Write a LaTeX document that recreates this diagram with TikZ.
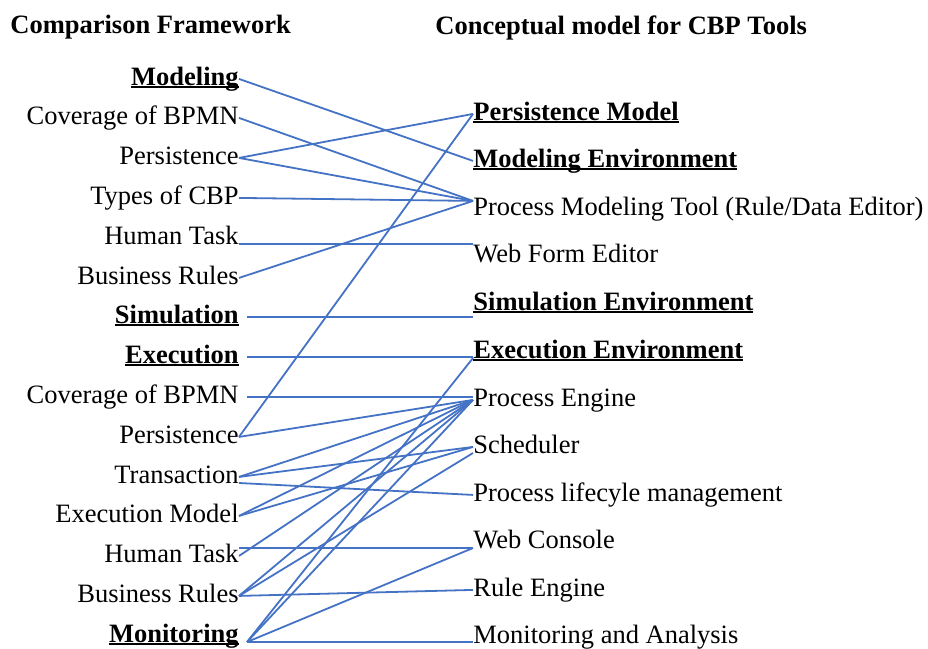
\documentclass[tikz,border=0pt]{standalone}
\usepackage{fontspec, xcolor}
\setmainfont{Liberation Serif}
\definecolor{linkblue}{HTML}{4472C4}
\newcommand{\ulbf}[1]{\setbox0=\hbox{\bfseries #1}\rlap{\copy0}\rule[-1.6pt]{\wd0}{0.9pt}}
\begin{document}
\begin{tikzpicture}[x=0.5pt, y=-0.5pt,
      lft/.style={anchor=base east, inner sep=0pt},
      lgap/.style={anchor=base east, inner sep=0pt, inner xsep=4pt},
      rgt/.style={anchor=base west, inner sep=0pt},
      link/.style={linkblue, line width=0.9pt}]
            \fontsize{13.25}{16}\selectfont
            \useasboundingbox (0,0) rectangle (928,649);
            % titles
            \node[anchor=base west, inner sep=0pt, font=\bfseries] (lefttitle) at (10,33) {Comparison Framework};
            \node[anchor=base west, inner sep=0pt, font=\bfseries] (righttitle) at (435,34) {Conceptual model for CBP Tools};
            % comparison framework
            \node[lft] (model) at (239,85) {\ulbf{Modeling}};
            \node[lft] (covA) at (239,124) {Coverage of BPMN};
            \node[lft] (persA) at (239,164) {Persistence};
            \node[lft] (types) at (239,204) {Types of CBP};
            \node[lft] (humanA) at (239,244) {Human Task};
            \node[lft] (rulesA) at (239,284) {Business Rules};
            \node[lgap] (sim) at (247,323) {\ulbf{Simulation}};
            \node[lgap] (exec) at (247,363) {\ulbf{Execution}};
            \node[lgap] (covB) at (247,403) {Coverage of BPMN};
            \node[lft] (persB) at (239,443) {Persistence};
            \node[lft] (trans) at (239,483) {Transaction};
            \node[lft] (execmodel) at (239,522) {Execution Model};
            \node[lft] (humanB) at (239,562) {Human Task};
            \node[lft] (rulesB) at (239,602) {Business Rules};
            \node[lgap] (monit) at (247,642) {\ulbf{Monitoring}};
            % conceptual model
            \node[rgt] (persmodel) at (473,120) {\ulbf{Persistence Model}};
            \node[rgt] (modenv) at (473,167) {\ulbf{Modeling Environment}};
            \node[rgt] (pmtool) at (473,215) {Process Modeling Tool (Rule/Data Editor)};
            \node[rgt] (webform) at (473,262) {Web Form Editor};
            \node[rgt] (simenv) at (473,310) {\ulbf{Simulation Environment}};
            \node[rgt] (execenv) at (473,358) {\ulbf{Execution Environment}};
            \node[rgt] (engine) at (473,406) {Process Engine};
            \node[rgt] (sched) at (473,453) {Scheduler};
            \node[rgt] (lifecycle) at (473,501) {Process lifecyle management};
            \node[rgt] (console) at (473,548) {Web Console};
            \node[rgt] (ruleengine) at (473,596) {Rule Engine};
            \node[rgt] (monana) at (473,643) {Monitoring and Analysis};
            % modeling links
            \draw[link] (model.mid east)--(modenv.mid west);
            \draw[link] (covA.mid east)--([yshift=4pt]pmtool.mid west);
            \draw[link] (persA.mid east)--(persmodel.mid west);
            \draw[link] (persA.mid east)--([yshift=4pt]pmtool.mid west);
            \draw[link] (types.mid east)--([yshift=4pt]pmtool.mid west);
            \draw[link] (humanA.base east)--(humanA.base east -| webform.west);
            \draw[link] (rulesA.mid east)--([yshift=4pt]pmtool.mid west);
            \draw[link] (sim.mid east)--(sim.mid east -| simenv.west);
            % execution links
            \draw[link] (exec.mid east)--(exec.mid east -| execenv.west);
            \draw[link] (covB.mid east)--(covB.mid east -| engine.west);
            \draw[link] (persB.mid east)--(persmodel.mid west);
            \draw[link] (persB.mid east)--(engine.mid west);
            \draw[link] (trans.mid east)--(engine.mid west);
            \draw[link] (trans.mid east)--(sched.mid west);
            \draw[link] (trans.base east)--(lifecycle.mid west);
            \draw[link] (execmodel.mid east)--(engine.mid west);
            \draw[link] (execmodel.mid east)--(sched.mid west);
            \draw[link] (humanB.mid east)--(engine.mid west);
            \draw[link] ([yshift=4pt]humanB.mid east)--([yshift=4pt]humanB.mid east -| console.west);
            \draw[link] (rulesB.mid east)--(engine.mid west);
            \draw[link] (rulesB.mid east)--(sched.base west);
            \draw[link] (rulesB.mid east)--(ruleengine.mid west);
            % monitoring links
            \draw[link] (monit.base east)--(execenv.base west);
            \draw[link] (monit.base east)--(engine.mid west);
            \draw[link] (monit.base east)--(console.base west);
            \draw[link] (monit.base east)--(monit.base east -| monana.west);
      \end{tikzpicture}
\end{document}
